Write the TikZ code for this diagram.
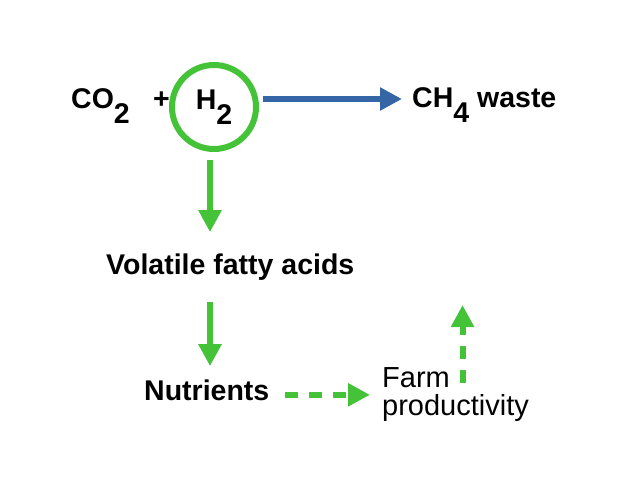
\documentclass[tikz,border=0pt]{standalone}
\usepackage{fontspec}
\setmainfont{Liberation Sans}
\usetikzlibrary{arrows.meta}
\definecolor{leafgreen}{HTML}{44C238}
\definecolor{flowblue}{HTML}{3465A4}
\newcommand{\lowsub}[1]{\raisebox{-15pt}{#1}}
\newcommand{\tri}{-{Triangle[length=22pt,width=22pt]}}

\begin{document}
\begin{tikzpicture}[x=1pt,y=1pt,
  lbl/.style={inner sep=0pt,anchor=base west,font=\fontsize{28.5}{32}\selectfont\bfseries},
  flow/.style={line width=6pt,leafgreen,\tri},
  dflow/.style={flow,dash pattern=on 13pt off 11pt}]
\useasboundingbox (0,0) rectangle (626,-482);
%top row
\node[lbl] (co2) at (71,-108) {CO\lowsub{2}};
\node[lbl] (plus) at (153,-108) {+};
\node[lbl,anchor=center,circle,draw=leafgreen,line width=6pt,minimum size=84pt] (h2) at (214,-107) {H\lowsub{2}};
\node[lbl] (ch4) at (412,-107) {CH\lowsub{4} waste};
%lower labels
\node[lbl] (vfa) at (106,-274) {Volatile fatty acids};
\node[lbl] (nut) at (144,-400) {Nutrients};
\node[inner sep=0pt,anchor=north west,align=left,font=\fontsize{29}{28.3}\selectfont] (farm) at (382,-367) {Farm\\productivity};
%arrows
\draw[line width=6pt,flowblue,\tri,shorten <=4pt,shorten >=10pt] ([yshift=8pt]h2.east) -- ([yshift=8pt]h2.east -| ch4.west);
\draw[flow,shorten <=8pt,shorten >=21pt] ([xshift=-4pt]h2.south) -- ([xshift=-4pt]h2.south |- vfa.north);
\draw[flow,shorten <=22pt,shorten >=13pt] ([xshift=-4pt]vfa.south -| h2.south) -- ([xshift=-4pt]nut.north -| h2.south);
\draw[dflow,shorten <=16pt,shorten >=12pt] ([yshift=-5pt]nut.east) -- ([yshift=-5pt]nut.east -| farm.west);
\draw[dflow] ([shift={(7pt,-16pt)}]farm.north) -- ++(0,78);
\end{tikzpicture}
\end{document}
